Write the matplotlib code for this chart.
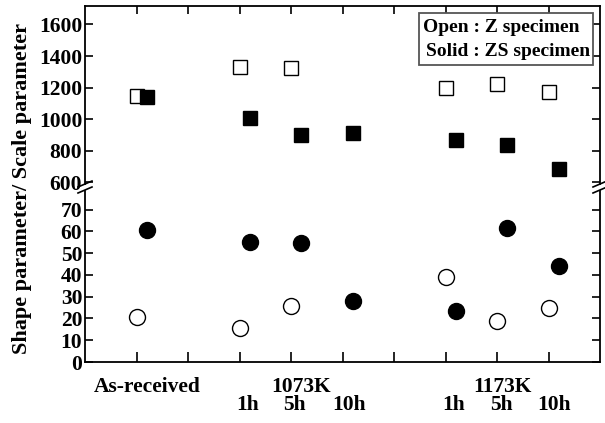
import numpy as np
import matplotlib.pyplot as plt
from matplotlib.patches import Rectangle

plt.rcParams['font.family'] = ['Liberation Serif', 'DejaVu Serif']
plt.rcParams['font.weight'] = 'bold'

# heat treatment conditions, open = Z specimen, solid = ZS specimen
positions = [1, 3, 4, 5, 7, 8, 9]
scale_z = [1150, 1330, 1325, np.nan, 1200, 1220, 1172]
scale_zs = [1140, 1010, 900, 912, 870, 838, 684]
shape_z = [20.7, 15.8, 25.7, np.nan, 39.0, 18.9, 24.7]
shape_zs = [60.6, 55.0, 54.5, 27.9, 23.3, 61.5, 44.0]
solid_shift = 0.2

group_labels = ['As-received', '1073K', '1173K']
group_pos = [1.2, 4.19, 8.1]
hour_labels = ['1h', '5h', '10h', '1h', '5h', '10h']
hour_pos = [3.15, 4.07, 5.12, 7.15, 8.08, 9.11]

W, H = 605, 423
fig = plt.figure(figsize=(W / 100, H / 100), dpi=100)
left, right = 85 / W, 600 / W
ax_top = fig.add_axes([left, 1 - 184 / H, right - left, (184 - 6) / H])
ax_bot = fig.add_axes([left, 1 - 362 / H, right - left, (362 - 191) / H])

xs = np.array(positions, dtype=float)
ax_top.plot(xs, scale_z, 's', ms=10, mfc='white', mec='black', mew=1.0)
ax_top.plot(xs + solid_shift, scale_zs, 's', ms=10, mfc='black', mec='black')
ax_bot.plot(xs, shape_z, 'o', ms=11.5, mfc='white', mec='black', mew=1.0)
ax_bot.plot(xs + solid_shift, shape_zs, 'o', ms=11.5, mfc='black', mec='black')

for ax in (ax_top, ax_bot):
    ax.set_xlim(0, 10)
    ax.set_xticks(range(1, 10))
    for s in ax.spines.values():
        s.set_linewidth(1.3)
    ax.tick_params(direction='in', length=6, width=1.2, labelsize=15.5,
                   right=True, pad=2)

ax_top.set_ylim(590, 1717)
ax_top.set_yticks(range(600, 1601, 200))
ax_top.spines['bottom'].set_visible(False)
ax_top.tick_params(axis='x', top=True, bottom=False, labelbottom=False)

ax_bot.set_ylim(0, 78.5)
ax_bot.set_yticks(range(0, 71, 10))
ax_bot.spines['top'].set_visible(False)
ax_bot.tick_params(axis='x', top=False, labelbottom=False, length=7)

# break marks across the left and right spines
for xp in (85, 600):
    for yp in (184, 190):
        fig.add_artist(plt.Line2D([(xp - 7) / W, (xp + 7) / W],
                                  [1 - (yp + 3) / H, 1 - (yp - 3) / H],
                                  color='black', lw=1.2))

for lab, p in zip(group_labels, group_pos):
    ax_bot.annotate(lab, xy=(p, 0), xycoords=('data', 'axes fraction'),
                    xytext=(0, -30 * 0.72), textcoords='offset points',
                    ha='center', va='baseline', fontsize=15.5, fontweight='bold')
for lab, p in zip(hour_labels, hour_pos):
    ax_bot.annotate(lab, xy=(p, 0), xycoords=('data', 'axes fraction'),
                    xytext=(0, -48 * 0.72), textcoords='offset points',
                    ha='center', va='baseline', fontsize=15.5, fontweight='bold')

fig.text(22 / W, 1 - 188 / H, 'Shape parameter/ Scale parameter',
         rotation=90, ha='center', va='center', fontsize=16, fontweight='bold')

# legend box
fig.add_artist(Rectangle((419 / W, 1 - 65 / H), (593 - 419) / W, (65 - 13) / H,
                         transform=fig.transFigure, fc='white', ec='#555555', lw=1.3))
fig.text(423 / W, 1 - 27 / H, 'Open : Z specimen', ha='left', va='center',
         fontsize=14, fontweight='bold')
fig.text(426 / W, 1 - 52 / H, 'Solid : ZS specimen', ha='left', va='center',
         fontsize=14, fontweight='bold')

fig.savefig('out.png', dpi=100)
